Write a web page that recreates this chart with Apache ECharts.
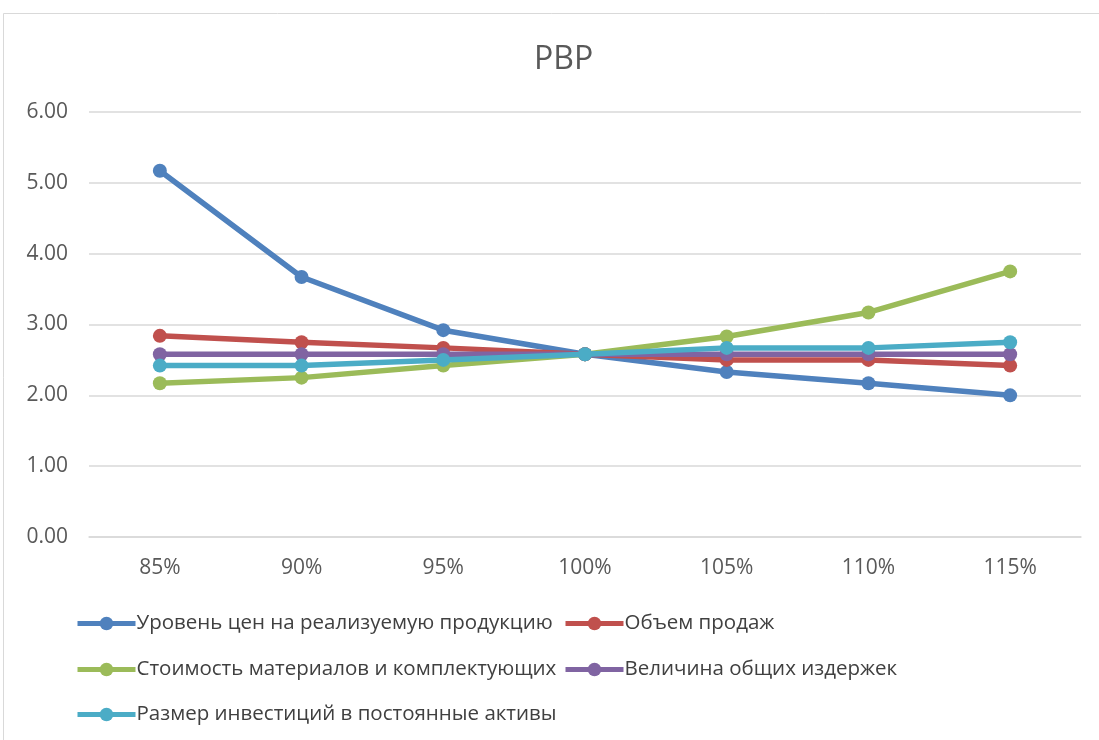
<!DOCTYPE html>
<html>
<head>
<meta charset="utf-8">
<script src="https://cdn.jsdelivr.net/npm/echarts@6/dist/echarts.min.js"></script>
<style>
html,body{margin:0;padding:0;background:#fff;}
#chart{width:1099px;height:740px;}
</style>
</head>
<body>
<div id="chart"></div>
<script>
// Sensitivity of payback period (PBP) to changes in key parameters
const categories = ['85%', '90%', '95%', '100%', '105%', '110%', '115%'];
const seriesNames = [
  'Уровень цен на реализуемую продукцию',
  'Объем продаж',
  'Стоимость материалов и комплектующих',
  'Величина общих издержек',
  'Размер инвестиций в постоянные активы'
];
const priceLevel   = [5.17, 3.67, 2.92, 2.58, 2.33, 2.17, 2.00];
const salesVolume  = [2.84, 2.75, 2.67, 2.58, 2.50, 2.50, 2.42];
const materialCost = [2.17, 2.25, 2.42, 2.58, 2.83, 3.17, 3.75];
const overheadCost = [2.58, 2.58, 2.58, 2.58, 2.58, 2.58, 2.58];
const investment   = [2.42, 2.42, 2.50, 2.58, 2.67, 2.67, 2.75];
const yTicks = [0, 1, 2, 3, 4, 5, 6];

const colors = ['#4F81BD', '#C0504D', '#9BBB59', '#8064A2', '#4BACC6'];
const values = [priceLevel, salesVolume, materialCost, overheadCost, investment];
const fontFamily = '"Open Sans", "Liberation Sans", sans-serif';

const chart = echarts.init(document.getElementById('chart'), null, {renderer: 'canvas'});

// legend entries are placed one by one: two per row, three rows
const legendSlots = [
  {left: 70, top: 608}, {left: 558, top: 608},
  {left: 70, top: 654}, {left: 558, top: 654},
  {left: 70, top: 699}
];
const legends = seriesNames.map((name, i) => ({
  left: legendSlots[i].left,
  top: legendSlots[i].top,
  orient: 'horizontal',
  itemWidth: 58,
  itemHeight: 17,
  data: [name],
  lineStyle: {width: 5},
  textStyle: {fontSize: 20.5, color: '#404040', fontFamily: fontFamily, padding: [0, 0, 0, -4]},
  selectedMode: false
}));

chart.setOption({
  backgroundColor: '#fff',
  animation: false,
  color: colors,
  title: {
    text: 'PBP',
    left: 529,
    top: 39,
    textStyle: {fontSize: 32, fontWeight: 'normal', color: '#595959', fontFamily: fontFamily}
  },
  graphic: [{
    type: 'rect',
    shape: {x: 3.5, y: 13.5, width: 1120, height: 760},
    style: {fill: 'none', stroke: '#d9d9d9', lineWidth: 1},
    silent: true
  }],
  legend: legends,
  grid: {left: 89, right: 18, top: 112, bottom: 203, containLabel: false},
  xAxis: {
    type: 'category',
    data: categories,
    boundaryGap: true,
    axisLine: {show: true, lineStyle: {color: '#d9d9d9', width: 1.5}},
    axisTick: {show: false},
    axisLabel: {fontSize: 21, color: '#595959', margin: 21, fontFamily: fontFamily}
  },
  yAxis: {
    type: 'value',
    min: yTicks[0],
    max: yTicks[yTicks.length - 1],
    interval: 1,
    axisLine: {show: false},
    axisTick: {show: false},
    splitLine: {lineStyle: {color: '#d9d9d9', width: 1.5}},
    axisLabel: {
      fontSize: 21, color: '#595959', margin: 21, fontFamily: fontFamily,
      formatter: v => v.toFixed(2)
    }
  },
  series: seriesNames.map((name, i) => ({
    name: name,
    type: 'line',
    data: values[i],
    symbol: 'circle',
    symbolSize: 14,
    showAllSymbol: true,
    lineStyle: {width: 5.5, color: colors[i]},
    itemStyle: {color: colors[i]},
    z: 2 + i
  }))
});
</script>
</body>
</html>
